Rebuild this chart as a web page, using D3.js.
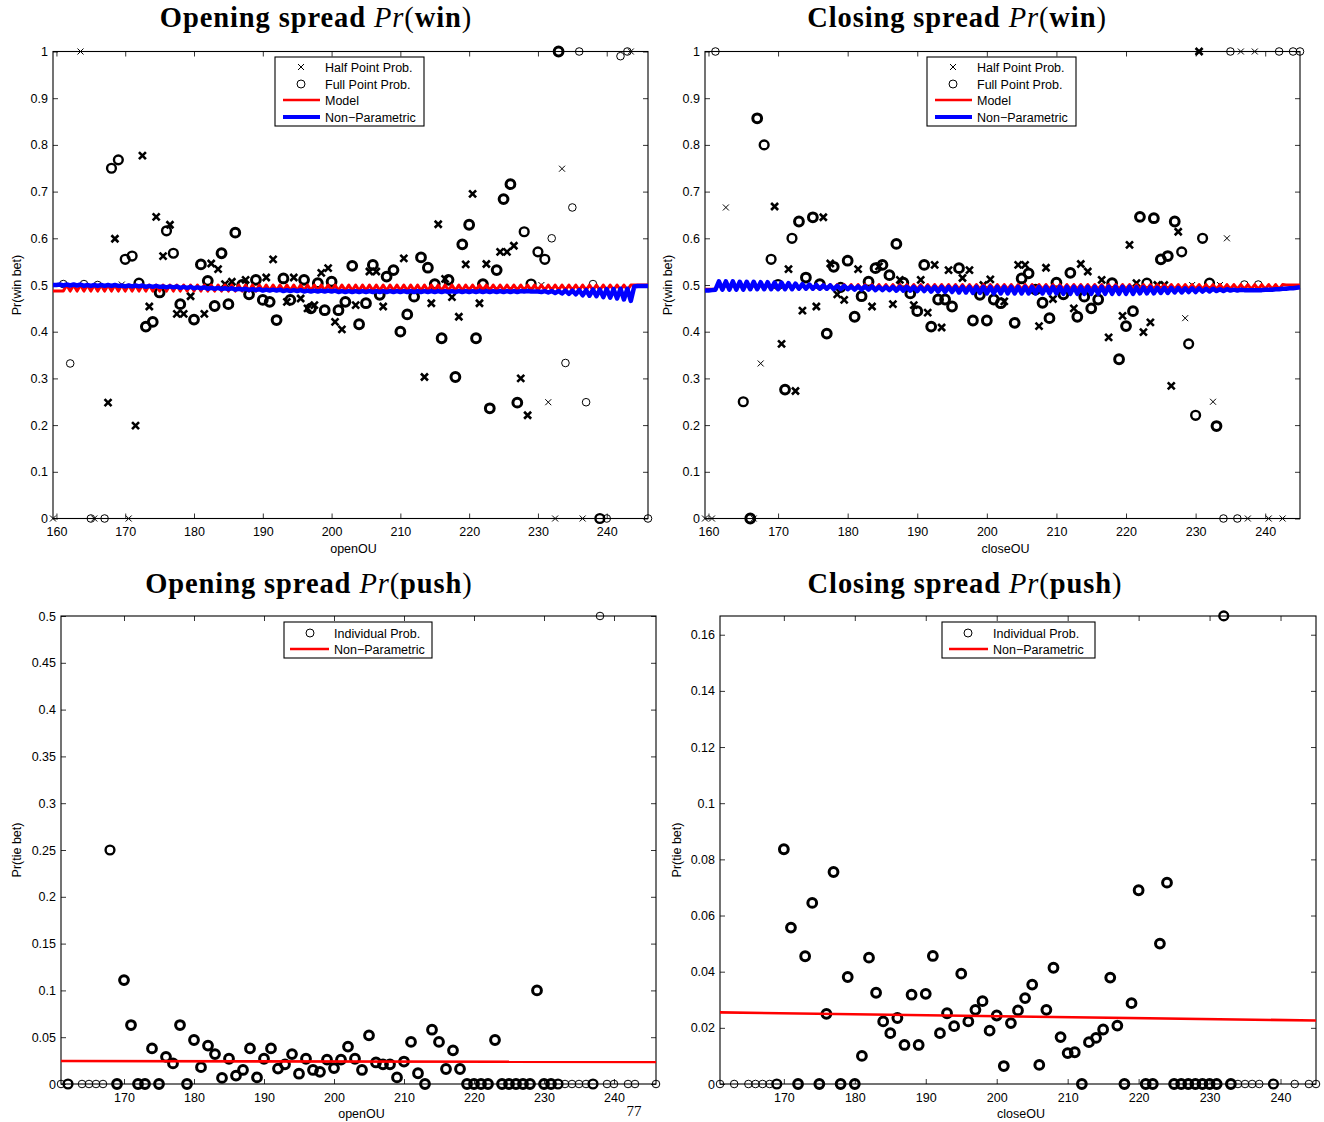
<!DOCTYPE html>
<html><head><meta charset="utf-8">
<script src="https://cdn.jsdelivr.net/npm/d3@7"></script>
<style>body{margin:0;background:#fff}svg{display:block}</style>
</head><body><svg id="c" width="1324" height="1122"></svg>
<script>
// ---------- DATA ----------
// [x, probability, number of overlapping observations]
const openHalfPts = [
 [163.5,1,1],[243.5,1,1],[159.5,0,1],[165.5,0,1],[170.5,0,1],[232.5,0,1],[236.5,0,1],
 [172.5,0.777,2],[174.5,0.646,2],[176.5,0.629,2],[168.5,0.599,2],[175.5,0.562,2],[191.5,0.555,2],
 [182.5,0.546,2],[183.5,0.534,2],[194.5,0.516,2],[198.5,0.526,2],[199.5,0.536,2],[187.5,0.511,2],
 [190.5,0.516,2],[185.5,0.507,2],[184.5,0.502,2],[179.5,0.476,2],[177.5,0.438,2],[178.5,0.438,2],
 [181.5,0.438,2],[193.5,0.464,2],[195.5,0.471,2],[196.5,0.45,2],[197.5,0.457,2],[200.5,0.421,2],
 [201.5,0.405,2],[173.5,0.454,2],[167.5,0.248,2],[171.5,0.199,2],[169.5,0.501,1],
 [205.5,0.529,2],[206.5,0.529,2],[210.5,0.557,2],[215.5,0.63,2],[220.5,0.695,2],[219.5,0.544,2],
 [222.5,0.545,2],[224.5,0.571,2],[225.5,0.571,2],[226.5,0.584,2],[233.5,0.749,1],[231.5,0.249,1],
 [228.5,0.221,2],[227.5,0.3,2],[213.5,0.303,2],[218.5,0.432,2],[221.5,0.461,2],[217.5,0.474,2],
 [214.5,0.461,2],[207.5,0.454,2],[203.5,0.457,2],[230.5,0.5,1],[216.5,0.513,2]
];
const openFullPts = [
 [233,1,3],[236,1,1],[242,0.99,1],[243,1,1],[165,0,1],[167,0,1],[239,0,2],[240,0,1],[246,0,1],
 [168,0.75,2],[169,0.768,2],[176,0.616,2],[170,0.555,2],[171,0.562,2],[177,0.568,2],[186,0.612,3],
 [184,0.568,3],[181,0.544,3],[182,0.509,3],[193,0.514,3],[196,0.511,3],[198,0.504,3],[200,0.507,3],
 [189,0.511,3],[175,0.484,3],[178,0.459,3],[180,0.426,3],[183,0.455,3],[185,0.459,3],[188,0.48,3],
 [190,0.468,3],[191,0.464,3],[192,0.425,3],[199,0.446,3],[201,0.446,3],[202,0.464,3],[173,0.411,3],
 [174,0.421,3],[162,0.332,1],[161,0.502,1],[164,0.502,1],[166,0.5,1],[172,0.504,2],[194,0.468,3],
 [197,0.45,3],[187,0.5,3],
 [203,0.541,3],[206,0.543,3],[208,0.518,3],[209,0.532,3],[213,0.559,3],[214,0.537,3],[220,0.629,3],
 [219,0.587,3],[224,0.532,3],[225,0.684,3],[226,0.716,3],[228,0.614,2],[230,0.571,2],[231,0.555,2],
 [232,0.6,1],[235,0.666,1],[234,0.333,1],[237,0.249,1],[227,0.248,3],[223,0.236,3],[218,0.303,3],
 [221,0.386,3],[216,0.386,3],[212,0.475,3],[211,0.437,3],[210,0.4,3],[204,0.416,3],[205,0.461,3],
 [207,0.479,3],[215,0.502,3],[217,0.511,3],[222,0.502,3],[229,0.502,2],[238,0.502,1]
];
const closeHalfPts = [
 [162.5,0.666,1],[169.5,0.668,2],[176.5,0.645,2],[171.5,0.534,2],[177.5,0.546,2],[181.5,0.534,2],
 [178.5,0.48,2],[179.5,0.468,2],[183.5,0.454,2],[186.5,0.459,2],[189.5,0.457,2],[191.5,0.441,2],
 [193.5,0.409,2],[173.5,0.445,2],[175.5,0.454,2],[170.5,0.374,2],[167.5,0.332,1],[172.5,0.273,2],
 [190.5,0.511,2],[192.5,0.543,2],[194.5,0.532,2],[197.5,0.532,2],[196.5,0.515,2],[187.5,0.511,2],
 [184.5,0.54,2],[199.5,0.5,2],[200.5,0.512,2],[202.5,0.465,2],
 [204.5,0.543,2],[205.5,0.543,2],[208.5,0.537,2],[213.5,0.545,2],[214.5,0.529,2],[207.5,0.412,2],
 [212.5,0.45,2],[216.5,0.511,2],[217.5,0.388,2],[219.5,0.434,2],[222.5,0.399,2],[223.5,0.42,2],
 [220.5,0.586,2],[227.5,0.614,2],[234.5,0.6,1],[228.5,0.429,1],[226.5,0.284,2],[232.5,0.25,1],
 [221.5,0.504,2],[224.5,0.5,2],[225.5,0.5,2],[229.5,0.5,1],[233.5,0.5,1],[209.5,0.47,2],
 [230.5,1,2],[236.5,1,1],[238.5,1,1],
 [159.5,0,1],[160.5,0,1],[166.5,0,1],[237.5,0,1],[240.5,0,1],[242.5,0,1]
];
const closeFullPts = [
 [167,0.857,3],[168,0.8,2],[173,0.636,3],[175,0.645,3],[172,0.6,2],[169,0.555,2],[174,0.516,3],
 [176,0.502,3],[170,0.501,2],[178,0.539,3],[180,0.552,3],[183,0.507,3],[184,0.536,3],[185,0.543,3],
 [186,0.521,3],[187,0.588,3],[188,0.505,3],[191,0.543,3],[196,0.536,3],[199,0.479,3],[182,0.476,3],
 [181,0.432,3],[189,0.482,3],[190,0.444,3],[193,0.469,3],[194,0.469,3],[195,0.454,3],[192,0.411,3],
 [198,0.424,3],[200,0.424,3],[177,0.396,3],[171,0.276,3],[165,0.25,2],[179,0.495,2],[201,0.469,3],
 [202,0.461,3],
 [205,0.514,3],[206,0.525,3],[210,0.505,3],[212,0.526,3],[204,0.419,3],[208,0.462,3],[209,0.429,3],
 [213,0.432,3],[214,0.475,3],[215,0.45,3],[216,0.469,3],[218,0.504,3],[219,0.341,3],[220,0.412,3],
 [221,0.444,3],[222,0.646,3],[224,0.643,3],[227,0.636,3],[225,0.555,3],[226,0.562,3],[228,0.571,2],
 [231,0.6,2],[229,0.374,2],[230,0.221,2],[233,0.198,3],[223,0.504,2],[232,0.504,2],[237,0.501,1],
 [239,0.501,1],[211,0.48,3],[207,0.49,3],
 [161,1,1],[235,1,1],[242,1,1],[244,1,1],[245,1,1],[166,0,3],[234,0,1],[236,0,1]
];
const openPushPts = [
 [161,0,1],[162,0,2],[164,0,1],[165,0,1],[166,0,1],[167,0,1],[169,0,3],[172,0,3],[173,0,3],[175,0,3],
 [179,0,3],[213,0,3],[219,0,3],[220,0,3],[221,0,3],[222,0,3],[224,0,3],[225,0,3],[226,0,3],[227,0,3],
 [228,0,3],[230,0,3],[231,0,3],[232,0,2],[233,0,1],[234,0,1],[235,0,1],[236,0,1],[237,0,2],[239,0,1],
 [240,0,1],[242,0,1],[243,0,1],[246,0,1],
 [168,0.25,2],[170,0.111,3],[171,0.063,3],[174,0.038,3],[176,0.029,3],[177,0.022,3],[178,0.063,3],
 [180,0.047,3],[181,0.018,3],[182,0.041,3],[183,0.032,3],[184,0.0065,3],[185,0.027,3],[186,0.009,3],
 [187,0.015,3],[188,0.038,3],[189,0.007,3],[190,0.027,3],[191,0.038,3],[192,0.0165,3],[193,0.021,3],
 [194,0.032,3],[195,0.011,3],[196,0.027,3],[197,0.015,3],[198,0.013,3],[199,0.026,3],[200,0.017,3],
 [201,0.026,3],[202,0.04,3],[203,0.027,3],[204,0.015,3],[205,0.052,3],[206,0.023,3],[207,0.021,3],
 [208,0.021,3],[209,0.007,3],[210,0.024,3],[211,0.045,3],[212,0.0115,3],[214,0.058,3],[215,0.045,3],
 [216,0.016,3],[217,0.036,3],[218,0.016,3],[223,0.047,3],[229,0.1,3],[238,0.5,1]
];
const closePushPts = [
 [161,0,1],[163,0,1],[165,0,1],[166,0,1],[167,0,1],[168,0,1],[169,0,2],[172,0,3],[175,0,3],[178,0,3],
 [180,0,3],[212,0,3],[218,0,3],[221,0,3],[222,0,3],[225,0,3],[226,0,3],[227,0,3],[228,0,3],[229,0,3],
 [230,0,3],[231,0,3],[233,0,3],[234,0,1],[235,0,1],[236,0,1],[237,0,1],[239,0,2],[242,0,1],[244,0,1],
 [245,0,1],
 [170,0.0836,3],[171,0.0557,3],[174,0.0645,3],[173,0.0455,3],[177,0.0755,3],[176,0.025,3],
 [179,0.0381,3],[181,0.01,3],[182,0.045,3],[183,0.0325,3],[184,0.0223,3],[185,0.0181,3],
 [186,0.0235,3],[187,0.0139,3],[188,0.0318,3],[189,0.0139,3],[190,0.0321,3],[191,0.0456,3],
 [192,0.0181,3],[193,0.0252,3],[194,0.0206,3],[195,0.0393,3],[196,0.0223,3],[197,0.0264,3],
 [198,0.0295,3],[199,0.019,3],[200,0.0244,3],[201,0.0064,3],[202,0.0217,3],[203,0.0262,3],
 [204,0.0306,3],[205,0.0354,3],[206,0.0068,3],[207,0.0264,3],[208,0.0414,3],[209,0.0167,3],
 [210,0.011,3],[211,0.0113,3],[213,0.0149,3],[214,0.0164,3],[215,0.0194,3],[216,0.0379,3],
 [217,0.0208,3],[219,0.0288,3],[220,0.069,3],[223,0.05,3],[224,0.0717,3],[232,0.1667,2]
];

// curves sampled every half point, starting at 159.5
const openGridStart = 159.5;
const openModel = [
 0.487,0.487,0.487,
 0.487,0.500,0.487,0.500,0.487,0.500,0.487,0.500,0.487,0.500,0.487,0.500,0.487,0.500,0.487,0.500,0.487,0.500,0.487,0.500,
 0.487,0.500,0.487,0.500,0.487,0.500,0.487,0.500,0.487,0.500,0.487,0.500,0.487,0.500,0.487,0.500,0.487,0.500,0.487,0.500,
 0.487,0.500,0.487,0.500,0.487,0.500,0.487,0.500,0.487,0.500,0.487,0.500,0.487,0.500,0.487,0.500,0.487,0.500,
 0.488,0.500,0.488,0.500,0.488,0.500,0.488,0.500,0.488,0.500,0.488,0.500,0.488,0.500,0.488,0.500,0.488,0.500,0.488,0.500,
 0.488,0.500,0.488,0.500,0.488,0.500,0.488,0.500,0.488,0.500,0.488,0.500,0.488,0.500,0.488,0.500,0.488,0.500,0.488,0.500,
 0.488,0.500,0.488,0.500,0.488,0.500,0.488,0.500,0.488,0.500,0.488,0.500,0.488,0.500,0.488,0.500,0.488,0.500,0.488,0.500,
 0.489,0.500,0.489,0.500,0.489,0.500,0.489,0.500,0.489,0.500,0.489,0.500,0.489,0.500,0.489,0.500,0.489,0.500,0.489,0.500,
 0.489,0.500,0.489,0.500,0.489,0.500,0.489,0.500,0.489,0.500,0.489,0.500,0.489,0.500,0.489,0.500,0.489,0.500,0.489,0.500,
 0.489,0.500,0.489,0.500,0.489,0.500,0.489,0.500,
 0.500,0.500,0.500,0.500,0.500
];
const openNP = [
 0.500,0.500,0.501,
 0.499,0.501,0.499,0.501,0.499,0.501,0.498,0.500,0.498,0.500,0.498,0.500,0.498,0.500,0.498,0.500,0.498,0.499,0.497,0.499,
 0.497,0.499,0.497,0.499,0.496,0.498,0.496,0.498,0.496,0.497,0.495,0.497,0.495,0.497,0.494,0.496,0.494,0.496,0.493,0.495,
 0.493,0.495,0.492,0.494,0.492,0.494,0.491,0.493,0.491,0.493,0.490,0.492,0.490,0.492,0.489,0.491,0.489,0.491,0.488,0.490,
 0.488,0.490,0.488,0.490,0.487,0.489,0.487,0.489,0.487,0.489,0.486,0.488,0.486,0.488,0.486,0.488,0.486,0.488,0.486,0.488,
 0.485,0.487,0.485,0.487,0.485,0.487,0.485,0.487,0.485,0.487,0.485,0.487,0.485,0.487,0.485,0.487,0.485,0.487,0.485,0.487,
 0.485,0.487,0.485,0.487,0.485,0.487,0.485,0.487,0.485,0.487,0.485,0.487,0.485,0.487,0.485,0.487,0.485,0.487,0.485,0.487,
 0.485,0.487,0.485,0.487,0.485,0.487,0.485,0.487,0.485,0.487,0.485,0.487,0.485,0.487,0.486,0.487,0.486,0.486,0.486,0.485,
 0.487,0.484,0.487,0.483,0.487,0.482,0.488,0.481,0.488,0.480,0.489,0.478,0.489,0.477,0.490,0.476,0.490,0.474,0.491,0.473,
 0.491,0.471,0.492,0.469,0.492,0.466,0.497,0.498,0.498,0.498,0.498
];
const closeGridStart = 159.5;
const closeModel = [
 0.491,0.491,0.491,
 0.491,0.501,0.491,0.501,0.491,0.501,0.491,0.501,0.491,0.501,0.491,0.501,0.491,0.501,0.491,0.501,0.491,0.501,0.491,0.501,
 0.491,0.501,0.491,0.501,0.491,0.501,0.491,0.501,0.491,0.501,0.491,0.501,0.491,0.501,0.491,0.501,0.491,0.501,0.491,0.501,
 0.491,0.501,0.491,0.501,0.491,0.501,0.491,0.501,0.491,0.501,0.491,0.501,0.491,0.501,0.491,0.501,0.491,0.501,0.491,0.501,
 0.491,0.501,0.491,0.501,0.491,0.501,0.491,0.501,0.491,0.501,0.491,0.501,0.491,0.501,0.491,0.501,0.491,0.501,0.491,0.501,
 0.491,0.501,0.491,0.501,0.491,0.501,0.491,0.501,0.491,0.501,0.491,0.501,0.491,0.501,0.491,0.501,0.491,0.501,0.491,0.501,
 0.491,0.501,0.491,0.501,0.491,0.501,0.491,0.501,0.491,0.501,0.491,0.501,0.491,0.501,0.491,0.501,0.491,0.501,0.491,0.501,
 0.491,0.501,0.491,0.501,0.491,0.501,0.491,0.501,0.491,0.501,0.491,0.501,0.491,0.501,0.491,0.501,0.491,0.501,0.491,0.501,
 0.491,0.501,0.491,0.501,0.491,0.501,0.491,0.501,0.491,0.501,0.491,0.501,0.491,0.501,0.491,0.501,0.491,0.501,0.491,0.501,
 0.491,0.501,0.491,0.501,
 0.500,0.500,0.500,0.500,0.500
];
const closeNP = [
 0.488,0.488,0.489,
 0.490,0.508,0.490,0.508,0.490,0.508,0.490,0.507,0.490,0.507,0.491,0.507,0.491,0.506,0.491,0.506,0.491,0.505,0.491,0.505,
 0.491,0.504,0.491,0.503,0.492,0.502,0.492,0.501,0.492,0.500,0.492,0.499,0.492,0.499,0.491,0.498,0.491,0.498,0.491,0.497,
 0.490,0.497,0.490,0.497,0.490,0.497,0.489,0.496,0.489,0.496,0.489,0.496,0.488,0.496,0.488,0.496,0.488,0.496,0.487,0.496,
 0.487,0.496,0.486,0.496,0.486,0.496,0.485,0.496,0.485,0.496,0.484,0.496,0.484,0.496,0.483,0.496,0.483,0.496,0.482,0.496,
 0.482,0.496,0.482,0.496,0.482,0.496,0.482,0.496,0.482,0.496,0.482,0.496,0.482,0.496,0.482,0.496,0.482,0.496,0.482,0.496,
 0.481,0.496,0.481,0.496,0.481,0.496,0.481,0.496,0.481,0.496,0.481,0.496,0.481,0.496,0.481,0.496,0.481,0.496,0.481,0.496,
 0.481,0.495,0.482,0.495,0.482,0.495,0.482,0.494,0.483,0.494,0.483,0.494,0.484,0.494,0.484,0.493,0.485,0.493,0.485,0.493,
 0.486,0.492,0.486,0.492,0.487,0.491,0.487,0.491,0.488,0.490,0.488,0.490,0.489,0.489,0.489,0.489,0.489,0.489,0.490,0.490,
 0.490,0.491,0.491,0.492,0.492,0.493,0.493,0.494,0.495
];
const openPushNP = [[161,0.0245],[246,0.0236]];
const closePushNP = [[161,0.0255],[245,0.0226]];

const winXTicks = [160,170,180,190,200,210,220,230,240];
const pushXTicks = [170,180,190,200,210,220,230,240];
const winYTicks = [0,0.1,0.2,0.3,0.4,0.5,0.6,0.7,0.8,0.9,1];
const winYLabels = ["0","0.1","0.2","0.3","0.4","0.5","0.6","0.7","0.8","0.9","1"];
const openPushYTicks = [0,0.05,0.1,0.15,0.2,0.25,0.3,0.35,0.4,0.45,0.5];
const openPushYLabels = ["0","0.05","0.1","0.15","0.2","0.25","0.3","0.35","0.4","0.45","0.5"];
const closePushYTicks = [0,0.02,0.04,0.06,0.08,0.1,0.12,0.14,0.16];
const closePushYLabels = ["0","0.02","0.04","0.06","0.08","0.1","0.12","0.14","0.16"];

// ---------- DRAWING ----------
const svg = d3.select("#c");
const SANS = "Liberation Sans, Arial, Helvetica, sans-serif";
const SERIF = "Liberation Serif, Times New Roman, serif";
const RED = "#ff0000", BLUE = "#0000ff";

function panel(cfg) {
  const x = d3.scaleLinear().domain(cfg.xDomain).range([cfg.left, cfg.right]);
  const y = d3.scaleLinear().domain(cfg.yDomain).range([cfg.bottom, cfg.top]);
  const g = svg.append("g");
  const ax = [
    [d3.axisBottom(x).tickValues(cfg.xTicks).tickSize(-5).tickPadding(9).tickFormat(d3.format("d")), `translate(0,${cfg.bottom})`],
    [d3.axisTop(x).tickValues(cfg.xTicks).tickSize(-5).tickFormat(""), `translate(0,${cfg.top})`],
    [d3.axisLeft(y).tickValues(cfg.yTicks).tickSize(-5).tickPadding(5).tickFormat((d,i)=>cfg.yLabels[i]), `translate(${cfg.left},0)`],
    [d3.axisRight(y).tickValues(cfg.yTicks).tickSize(-5).tickFormat(""), `translate(${cfg.right},0)`]
  ];
  ax.forEach(([a, tr]) => {
    const ag = g.append("g").attr("transform", tr).call(a);
    ag.select(".domain").remove();
    ag.selectAll("line").attr("stroke", "#000").attr("stroke-width", 0.8);
    ag.selectAll("text").attr("font-family", SANS).attr("font-size", 12.5).attr("fill", "#000");
  });
  g.append("rect").attr("x", cfg.left).attr("y", cfg.top)
    .attr("width", cfg.right - cfg.left).attr("height", cfg.bottom - cfg.top)
    .attr("fill", "none").attr("stroke", "#000").attr("stroke-width", 1.1);
  g.append("text").attr("x", (cfg.left + cfg.right) / 2 + 3).attr("y", cfg.bottom + 34)
    .attr("text-anchor", "middle").attr("font-family", SANS).attr("font-size", 12.5).text(cfg.xLabel);
  g.append("text").attr("transform", `translate(${cfg.yLabelX},${(cfg.top + cfg.bottom) / 2}) rotate(-90)`)
    .attr("text-anchor", "middle").attr("font-family", SANS).attr("font-size", 12.5).text(cfg.yLabel);
  const t = g.append("text").attr("x", cfg.titleX).attr("y", cfg.titleY).attr("text-anchor", "middle")
    .attr("font-family", SERIF).attr("font-size", 28.5).attr("letter-spacing", 0.9);
  t.append("tspan").attr("font-weight", "bold").text(cfg.titleA + " ");
  t.append("tspan").attr("font-style", "italic").text("Pr");
  t.append("tspan").text("(");
  t.append("tspan").attr("font-weight", "bold").text(cfg.titleB);
  t.append("tspan").text(")");
  return {g, x, y};
}

function drawX(g, pts, x, y) {
  g.append("g").selectAll("path").data(pts).join("path")
    .attr("transform", d => `translate(${x(d[0])},${y(d[1])})`)
    .attr("d", d => d[2] > 1 ? "M-3.5,-3.5L3.5,3.5M-3.5,3.5L3.5,-3.5" : "M-3,-3L3,3M-3,3L3,-3")
    .attr("fill", "none").attr("stroke", "#000").attr("stroke-width", d => d[2] > 1 ? 2.6 : 1);
}
function drawO(g, pts, x, y) {
  g.append("g").selectAll("circle").data(pts).join("circle")
    .attr("cx", d => x(d[0])).attr("cy", d => y(d[1]))
    .attr("r", d => d[2] > 1 ? 4.4 : 3.8)
    .attr("fill", "none").attr("stroke", "#000")
    .attr("stroke-width", d => d[2] >= 3 ? 3 : d[2] === 2 ? 2.4 : 1);
}
function drawCurve(g, vals, start, x, y, color, w) {
  g.append("path").datum(vals)
    .attr("d", d3.line().x((d, i) => x(start + i * 0.5)).y(d => y(d)))
    .attr("fill", "none").attr("stroke", color).attr("stroke-width", w).attr("stroke-linejoin", "round");
}
function drawLine(g, pts, x, y, color, w) {
  g.append("path").datum(pts)
    .attr("d", d3.line().x(d => x(d[0])).y(d => y(d[1])))
    .attr("fill", "none").attr("stroke", color).attr("stroke-width", w);
}
function legend(box, items, markerX, lineX0, lineX1, textX, rowYs) {
  const g = svg.append("g");
  g.append("rect").attr("x", box[0]).attr("y", box[1]).attr("width", box[2]).attr("height", box[3])
    .attr("fill", "#fff").attr("stroke", "#000").attr("stroke-width", 1.1);
  items.forEach((it, i) => {
    const yy = rowYs[i];
    if (it.type === "x") g.append("path").attr("d", `M${markerX-3},${yy-3}L${markerX+3},${yy+3}M${markerX-3},${yy+3}L${markerX+3},${yy-3}`).attr("stroke", "#000").attr("stroke-width", 1);
    else if (it.type === "o") g.append("circle").attr("cx", markerX).attr("cy", yy).attr("r", 4).attr("fill", "none").attr("stroke", "#000").attr("stroke-width", 1);
    else g.append("line").attr("x1", lineX0).attr("x2", lineX1).attr("y1", yy).attr("y2", yy).attr("stroke", it.color).attr("stroke-width", it.w);
    g.append("text").attr("x", textX).attr("y", yy + 4.5).attr("font-family", SANS).attr("font-size", 12.5).text(it.label);
  });
}

{
  const p = panel({xDomain:[159.5,246], yDomain:[0,1], left:53, right:648, top:51.5, bottom:518.5,
    xTicks:winXTicks, yTicks:winYTicks, yLabels:winYLabels, xLabel:"openOU", yLabel:"Pr(win bet)",
    yLabelX:21, titleA:"Opening spread", titleB:"win", titleX:316, titleY:27});
  drawX(p.g, openHalfPts, p.x, p.y);
  drawO(p.g, openFullPts, p.x, p.y);
  drawCurve(p.g, openModel, openGridStart, p.x, p.y, RED, 3);
  drawCurve(p.g, openNP, openGridStart, p.x, p.y, BLUE, 4.5);
}
{
  const p = panel({xDomain:[159.5,245], yDomain:[0,1], left:705, right:1300, top:51.5, bottom:518.5,
    xTicks:winXTicks, yTicks:winYTicks, yLabels:winYLabels, xLabel:"closeOU", yLabel:"Pr(win bet)",
    yLabelX:672, titleA:"Closing spread", titleB:"win", titleX:957, titleY:27});
  drawX(p.g, closeHalfPts, p.x, p.y);
  drawO(p.g, closeFullPts, p.x, p.y);
  drawCurve(p.g, closeModel, closeGridStart, p.x, p.y, RED, 3);
  drawCurve(p.g, closeNP, closeGridStart, p.x, p.y, BLUE, 4.5);
}
{
  const p = panel({xDomain:[161,246], yDomain:[0,0.5], left:61, right:656, top:616, bottom:1084,
    xTicks:pushXTicks, yTicks:openPushYTicks, yLabels:openPushYLabels, xLabel:"openOU", yLabel:"Pr(tie bet)",
    yLabelX:21, titleA:"Opening spread", titleB:"push", titleX:309, titleY:593});
  drawO(p.g, openPushPts, p.x, p.y);
  drawLine(p.g, openPushNP, p.x, p.y, RED, 2.6);
}
{
  const p = panel({xDomain:[161,245], yDomain:[0,1/6], left:720, right:1316, top:616, bottom:1084,
    xTicks:pushXTicks, yTicks:closePushYTicks, yLabels:closePushYLabels, xLabel:"closeOU", yLabel:"Pr(tie bet)",
    yLabelX:681, titleA:"Closing spread", titleB:"push", titleX:965, titleY:593});
  drawO(p.g, closePushPts, p.x, p.y);
  drawLine(p.g, closePushNP, p.x, p.y, RED, 2.6);
}

const winItems = [
  {type:"x", label:"Half Point Prob."}, {type:"o", label:"Full Point Prob."},
  {type:"line", color:RED, w:2.6, label:"Model"}, {type:"line", color:BLUE, w:4, label:"Non\u2212Parametric"}];
const pushItems = [{type:"o", label:"Individual Prob."}, {type:"line", color:RED, w:2.6, label:"Non\u2212Parametric"}];
legend([275,57,149,69], winItems, 301, 283, 320, 325, [67,84,100,117]);
legend([927,57,149,69], winItems, 953, 935, 972, 977, [67,84,100,117]);
legend([284,622,148,36], pushItems, 310, 290, 329, 334, [633,649]);
legend([942,622,153,36], pushItems, 968, 949, 988, 993, [633,649]);

// page number
svg.append("text").attr("x", 634).attr("y", 1116).attr("text-anchor", "middle")
  .attr("font-family", SERIF).attr("font-size", 15).text("77");
</script></body></html>
